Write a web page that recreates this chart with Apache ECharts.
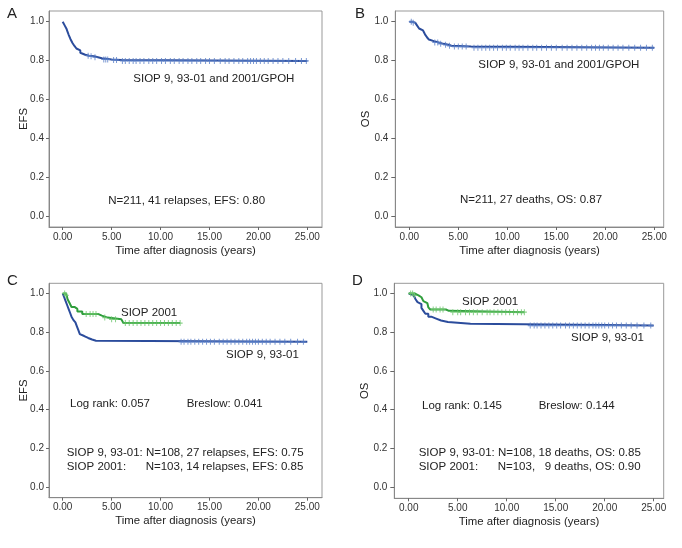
<!DOCTYPE html>
<html>
<head>
<meta charset="utf-8">
<script src="https://cdn.jsdelivr.net/npm/echarts@6/dist/echarts.min.js"></script>
<style>
html,body{margin:0;padding:0;background:#fff;}
#chart{width:682px;height:548px;}
</style>
</head>
<body>
<div id="chart"></div>
<script>
// ---------- data ----------
var xTicks = [0, 5, 10, 15, 20, 25];
var yTicks = [0, 0.2, 0.4, 0.6, 0.8, 1.0];

// Panel A: EFS, all patients (time, survival after event)
var efsAll = [[0,1.0],[0.1,0.99],[0.2,0.981],[0.3,0.972],[0.4,0.962],[0.5,0.948],[0.6,0.934],[0.7,0.924],[0.8,0.91],[0.9,0.9],[1.0,0.89],[1.2,0.875],[1.4,0.862],[1.6,0.852],[1.8,0.84],[2.0,0.83],[2.3,0.825],[2.7,0.822],[3.2,0.817],[3.6,0.812],[4.0,0.806],[5.0,0.803],[6.0,0.798],[25.0,0.798]];
var efsAllCens = [2.6,2.9,3.3,4.2,4.4,4.6,5.2,5.5,6.1,6.4,6.8,7.2,7.5,7.9,8.3,8.8,9.2,9.6,10.1,10.5,11.0,11.4,11.9,12.3,12.8,13.2,13.7,14.1,14.6,15.0,15.5,16.1,16.6,17.0,17.5,18.0,18.4,18.9,19.2,19.5,19.8,20.2,20.6,21.0,21.5,22.0,22.5,23.1,23.8,24.4,24.9];

// Panel B: OS, all patients
var osAll = [[0,1.0],[0.3,0.995],[0.6,0.99],[0.8,0.98],[1.0,0.965],[1.2,0.955],[1.4,0.945],[1.6,0.935],[1.8,0.92],[2.0,0.908],[2.2,0.9],[2.5,0.893],[3.0,0.886],[3.5,0.881],[4.0,0.876],[4.3,0.872],[6.3,0.866],[25.0,0.866]];
var osAllCens = [0.2,0.4,2.6,2.9,3.2,3.7,4.1,4.6,5.0,5.4,5.8,6.6,7.0,7.4,7.8,8.2,8.6,9.0,9.5,9.9,10.3,10.8,11.2,11.6,12.1,12.6,13.0,13.5,14.0,14.5,15.0,15.6,16.1,16.6,17.1,17.6,18.1,18.6,19.0,19.4,19.8,20.3,20.8,21.3,21.8,22.4,23.0,23.6,24.2,24.8];

// Panel C: EFS by trial
var efsS9 = [[0,1.0],[0.15,0.98],[0.3,0.96],[0.45,0.94],[0.6,0.92],[0.75,0.9],[0.9,0.88],[1.1,0.862],[1.3,0.85],[1.45,0.83],[1.6,0.81],[1.75,0.79],[1.9,0.78],[2.2,0.77],[2.6,0.762],[3.0,0.756],[3.4,0.75],[25.0,0.75]];
var efsS9Cens = [12.1,12.4,12.8,13.1,13.5,13.9,14.3,14.7,15.1,15.5,16.0,16.4,16.8,17.2,17.6,18.0,18.4,18.8,19.1,19.4,19.7,20.0,20.4,20.8,21.2,21.7,22.2,22.7,23.3,24.0,24.6];
var efsS01 = [[0,1.0],[0.35,0.99],[0.5,0.97],[0.7,0.95],[0.9,0.93],[1.2,0.92],[1.5,0.906],[2.0,0.894],[3.6,0.885],[4.0,0.875],[4.6,0.866],[6.0,0.856],[6.2,0.847],[12.0,0.847]];
var efsS01Cens = [0.2,0.35,2.4,2.8,3.1,3.4,4.3,5.0,5.4,6.4,6.8,7.2,7.6,8.0,8.4,8.8,9.2,9.6,10.0,10.4,10.8,11.2,11.6,12.0];

// Panel D: OS by trial
var osS9 = [[0,1.0],[0.2,0.99],[0.5,0.98],[0.7,0.97],[0.9,0.955],[1.1,0.945],[1.3,0.925],[1.5,0.91],[1.7,0.895],[2.0,0.88],[2.3,0.87],[2.8,0.86],[3.3,0.852],[4.0,0.843],[6.3,0.834],[25.0,0.834]];
var osS9Cens = [12.4,12.8,13.1,13.5,13.9,14.3,14.7,15.1,15.5,16.0,16.4,16.8,17.2,17.6,18.0,18.4,18.8,19.1,19.4,19.7,20.0,20.4,20.8,21.2,21.7,22.2,22.7,23.3,24.0,24.7];
var osS01 = [[0,1.0],[0.6,0.99],[1.0,0.98],[1.3,0.97],[1.5,0.96],[1.7,0.95],[1.9,0.94],[2.0,0.928],[2.2,0.917],[3.8,0.91],[4.1,0.903],[11.8,0.903]];
var osS01Cens = [0.2,0.4,0.6,2.5,2.8,3.2,3.5,4.5,5.0,5.3,5.8,6.2,6.6,7.0,7.5,8.0,8.3,8.7,9.1,9.5,9.9,10.3,10.7,11.1,11.5,11.8];

// ---------- helpers ----------
function censorPoints(curve, times) {
  return times.map(function (t) {
    var s = curve[0][1];
    for (var i = 0; i < curve.length; i++) { if (curve[i][0] <= t) s = curve[i][1]; }
    return [t, s];
  });
}
var BLUE = '#2b4c9c', BLUE_C = '#5a7fc8', GREEN = '#2f9e3c', GREEN_C = '#6cc66c';
var FONT = 'Liberation Sans, Arial, Helvetica, sans-serif';
var PLUS = 'path://M1.6,0H2.4V1.6H4V2.4H2.4V4H1.6V2.4H0V1.6H1.6Z';

var panels = [
  {box:[49,11,273,216], x:[-1.40,26.50], y:[-0.0566,1.055], yName:'EFS', yGap:20, tickLen:3, lblMargin:2},
  {box:[395.3,11,268.4,216], x:[-1.43,25.96], y:[-0.0566,1.055], yName:'OS', yGap:23.5, tickLen:4, lblMargin:3},
  {box:[49,283.3,273,214.4], x:[-1.40,26.50], y:[-0.054,1.052], yName:'EFS', yGap:20, tickLen:3, lblMargin:2},
  {box:[394.3,283.3,269.4,215], x:[-1.47,26.02], y:[-0.057,1.052], yName:'OS', yGap:23.5, tickLen:4, lblMargin:3}
];

var grids = [], xAxes = [], yAxes = [];
panels.forEach(function (p, i) {
  grids.push({left:p.box[0], top:p.box[1], width:p.box[2], height:p.box[3], show:true, borderColor:'#999', borderWidth:1, backgroundColor:'#fff', containLabel:false});
  xAxes.push({
    type:'value', gridIndex:i, min:p.x[0], max:p.x[1],
    name:'Time after diagnosis (years)', nameLocation:'middle', nameGap:18, nameMoveOverlap:false,
    nameTextStyle:{fontFamily:FONT, fontSize:11.4, color:'#222'},
    axisLine:{show:true, onZero:false, lineStyle:{color:'#888', width:1}},
    axisTick:{show:true, inside:false, length:3, customValues:xTicks, lineStyle:{color:'#666'}},
    axisLabel:{customValues:xTicks, margin:5, fontFamily:FONT, fontSize:10, color:'#333', formatter:function(v){return v.toFixed(2);}},
    splitLine:{show:false}
  });
  yAxes.push({
    type:'value', gridIndex:i, min:p.y[0], max:p.y[1],
    name:p.yName, nameLocation:'middle', nameGap:p.yGap, nameMoveOverlap:false,
    nameTextStyle:{fontFamily:FONT, fontSize:11.4, color:'#222'},
    axisLine:{show:true, onZero:false, lineStyle:{color:'#888', width:1}},
    axisTick:{show:true, inside:false, length:p.tickLen, customValues:yTicks, lineStyle:{color:'#666'}},
    axisLabel:{customValues:yTicks, margin:p.lblMargin + p.tickLen, fontFamily:FONT, fontSize:10, color:'#333', formatter:function(v){return v.toFixed(1);}},
    splitLine:{show:false}
  });
});

function stepSeries(idx, data, color) {
  return {type:'line', xAxisIndex:idx, yAxisIndex:idx, data:data, step:'end', showSymbol:false, symbol:'none',
    lineStyle:{color:color, width:2}, silent:true, animation:false, z:3};
}
function censSeries(idx, data, color) {
  return {type:'scatter', xAxisIndex:idx, yAxisIndex:idx, data:data, symbol:PLUS, symbolSize:[5,6],
    itemStyle:{color:color}, silent:true, animation:false, z:4};
}

var series = [
  stepSeries(0, efsAll, BLUE), censSeries(0, censorPoints(efsAll, efsAllCens), BLUE_C),
  stepSeries(1, osAll, BLUE), censSeries(1, censorPoints(osAll, osAllCens), BLUE_C),
  stepSeries(2, efsS9, BLUE), censSeries(2, censorPoints(efsS9, efsS9Cens), BLUE_C),
  stepSeries(2, efsS01, GREEN), censSeries(2, censorPoints(efsS01, efsS01Cens), GREEN_C),
  stepSeries(3, osS9, BLUE), censSeries(3, censorPoints(osS9, osS9Cens), BLUE_C),
  stepSeries(3, osS01, GREEN), censSeries(3, censorPoints(osS01, osS01Cens), GREEN_C)
];

function txt(x, y, s, size) {
  return {type:'text', left:x, top:y - (size || 11.5) * 0.55, z:10, silent:true,
    style:{text:s, fontFamily:FONT, fontSize:(size || 11.5), fill:'#222'}};
}
var graphics = [
  txt(7, 15, 'A', 15), txt(355, 15, 'B', 15), txt(7, 282, 'C', 15), txt(352, 282, 'D', 15),
  txt(133.3, 79, 'SIOP 9, 93-01 and 2001/GPOH'),
  txt(108.3, 201, 'N=211, 41 relapses, EFS: 0.80'),
  txt(478.3, 65, 'SIOP 9, 93-01 and 2001/GPOH'),
  txt(460, 200, 'N=211, 27 deaths, OS: 0.87'),
  txt(121, 313.3, 'SIOP 2001'),
  txt(226, 355, 'SIOP 9, 93-01'),
  txt(70, 404.3, 'Log rank: 0.057'),
  txt(186.7, 404.3, 'Breslow: 0.041'),
  txt(66.7, 453.3, 'SIOP 9, 93-01: N=108, 27 relapses, EFS: 0.75'),
  txt(66.7, 467.3, 'SIOP 2001:'),
  txt(145.7, 467.3, 'N=103, 14 relapses, EFS: 0.85'),
  txt(462, 302.3, 'SIOP 2001'),
  txt(571, 338.3, 'SIOP 9, 93-01'),
  txt(422, 405.7, 'Log rank: 0.145'),
  txt(538.7, 405.7, 'Breslow: 0.144'),
  txt(418.7, 453.3, 'SIOP 9, 93-01: N=108, 18 deaths, OS: 0.85'),
  txt(418.7, 467.3, 'SIOP 2001:'),
  txt(497.7, 467.3, 'N=103,   9 deaths, OS: 0.90')
];

var chart = echarts.init(document.getElementById('chart'), null, {renderer:'canvas'});
chart.setOption({
  animation:false,
  backgroundColor:'#fff',
  grid:grids, xAxis:xAxes, yAxis:yAxes, series:series, graphic:graphics
});
</script>
</body>
</html>
